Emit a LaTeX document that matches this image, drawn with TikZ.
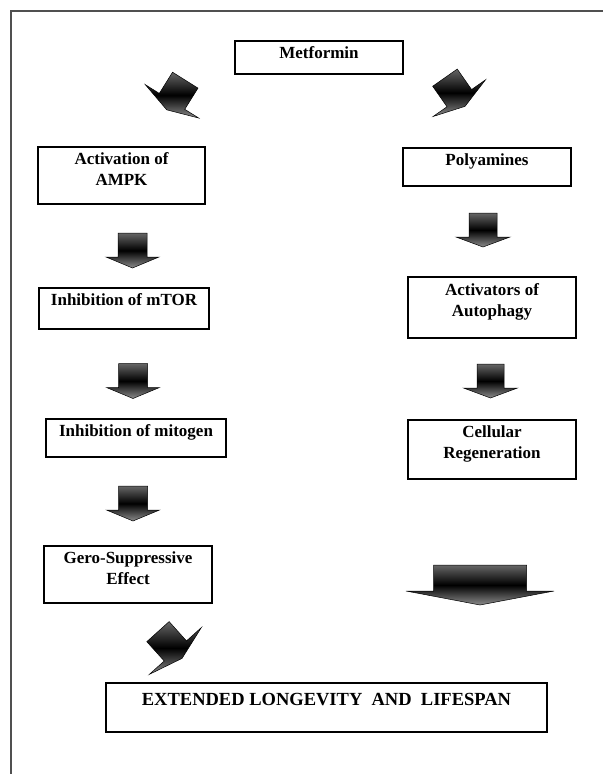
\documentclass[tikz,border=0pt]{standalone}
\usepackage{fontspec}
\setmainfont{Liberation Serif}
\usepackage{tikz}
\usetikzlibrary{positioning, shadows}
\definecolor{framegray}{RGB}{80,80,80}

\tikzset{
  pics/blockarrow/.style n args={4}{code={
    % #1 half body width, #2 body height, #3 half head width, #4 head height
    \shade[top color=black!60, bottom color=black!45, middle color=black, draw=black, line width=0.5pt]
      (-#1,-#2/2-#4/2) -- (#1,-#2/2-#4/2) -- (#1,#2/2-#4/2) -- (#3,#2/2-#4/2)
      -- (0,#2/2+#4/2) -- (-#3,#2/2-#4/2) -- (-#1,#2/2-#4/2) -- cycle;
  }}
}

\begin{document}
\begin{tikzpicture}[
    x=1pt, y=-1pt,
    box/.style={rectangle, draw=black, line width=2.4pt, fill=white,
      drop shadow={shadow xshift=1.2pt, shadow yshift=-1.2pt, opacity=.35}},
    txt/.style={align=center, inner sep=0pt, font=\bfseries\fontsize{17}{20.5}\selectfont},
    frameline/.style={draw=framegray, line width=2pt}
]
\useasboundingbox (0,0) rectangle (603,774);

% outer frame
\draw[frameline] (10.5,774) -- (10.5,10.5) -- (603,10.5);

% top
\node[box, minimum width=168, minimum height=33] (met) at (319,57.5) {};
\node[txt, below=7pt of met.north] (met-t) {Metformin};
\pic[rotate=-32] (a0) at (176,95) {blockarrow={15}{25}{31.5}{10}};
\pic[rotate=35] (b0) at (455,92) {blockarrow={15}{25}{32}{10}};

% left branch
\node[box, minimum width=167, minimum height=57] (act) at (121.5,175.5) {};
\node[txt, below=7pt of act.north] (act-t) {Activation of\\AMPK};
\pic (a1) at (132.5,250.5) {blockarrow={14.5}{24}{26.5}{11}};
\node[box, minimum width=170, minimum height=41] (mtor) at (124,308.5) {};
\node[txt, below=7pt of mtor.north] (mtor-t) {Inhibition of mTOR};
\pic (a2) at (133,381) {blockarrow={14.5}{24}{26.5}{11}};
\node[box, minimum width=180, minimum height=38] (mito) at (136,438) {};
\node[txt, below=7pt of mito.north] (mito-t) {Inhibition of mitogen};
\pic (a3) at (133,503.5) {blockarrow={14.5}{24}{26.5}{11}};
\node[box, minimum width=168, minimum height=57] (gero) at (128,574.5) {};
\node[txt, below=7pt of gero.north] (gero-t) {Gero-Suppressive\\Effect};
\pic[rotate=42] (a4) at (170,645) {blockarrow={15}{26}{35}{10}};

% right branch
\node[box, minimum width=168, minimum height=38] (poly) at (487,167) {};
\node[txt, below=7pt of poly.north] (poly-t) {Polyamines};
\pic (b1) at (483,230) {blockarrow={14}{24}{27}{10}};
\node[box, minimum width=168, minimum height=61] (auto) at (492,307.5) {};
\node[txt, below=8pt of auto.north] (auto-t) {Activators of\\Autophagy};
\pic (b2) at (490.5,381) {blockarrow={13.5}{24}{27}{10}};
\node[box, minimum width=168, minimum height=59] (cell) at (492,449.5) {};
\node[txt, below=7pt of cell.north] (cell-t) {Cellular\\Regeneration};
\pic (b3) at (480,585) {blockarrow={46.5}{26}{74}{14}};

% bottom
\node[box, minimum width=441, minimum height=49] (ext) at (326.5,707.5) {};
\node[txt, below=11pt of ext.north, font=\bfseries\fontsize{18.5}{22}\selectfont] (ext-t) {EXTENDED LONGEVITY\ \ AND\ \ LIFESPAN};

\end{tikzpicture}
\end{document}
